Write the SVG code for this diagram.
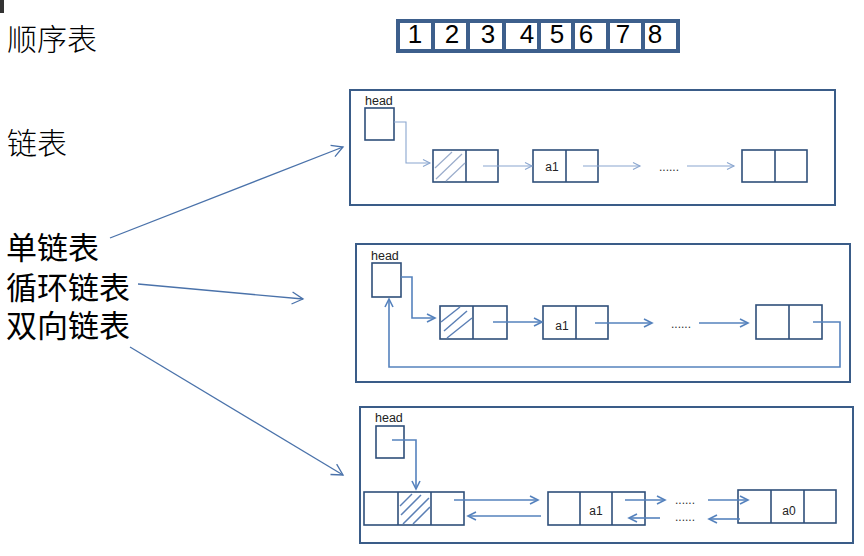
<svg xmlns="http://www.w3.org/2000/svg" width="864" height="556" viewBox="0 0 864 556">
<style>
.lbl{font-family:"Noto Sans CJK SC","Noto Sans CJK JP",sans-serif;fill:#000}
.big{font-size:31px}
.sm{font-size:30px;font-weight:300}
.num{font-family:"Liberation Sans",Arial,sans-serif;font-size:26px;fill:#000;text-anchor:middle}
.cell{fill:#fff;stroke:#2f4f7a;stroke-width:1.6}
.frame{fill:#fff;stroke:#3a5c88;stroke-width:2}
.hd{font-family:"Liberation Sans",Arial,sans-serif;font-size:12.5px;fill:#222}
.val{font-family:"Liberation Sans",Arial,sans-serif;font-size:12px;fill:#222;text-anchor:middle}
.dots{font-family:"Liberation Sans",Arial,sans-serif;font-size:12px;fill:#333}
.thin{fill:none;stroke:#8aa6cf;stroke-width:1.1}
.mid{fill:none;stroke:#5582bd;stroke-width:1.6}
.big-a{fill:none;stroke:#4a72aa;stroke-width:1.3}
.hatch1{stroke:#9aaccb;stroke-width:1.2}
.hatch2{stroke:#5b7fb5;stroke-width:1.5}
</style>
<defs>
<marker id="aBig" markerUnits="userSpaceOnUse" markerWidth="14" markerHeight="14" refX="12" refY="7" orient="auto">
<path d="M1,1 L12,7 L1,13" fill="none" stroke="#4a72aa" stroke-width="1.3"/>
</marker>
<marker id="aThin" markerUnits="userSpaceOnUse" markerWidth="10" markerHeight="10" refX="8" refY="5" orient="auto">
<path d="M1,1.5 L8,5 L1,8.5" fill="none" stroke="#8aa6cf" stroke-width="1.1"/>
</marker>
<marker id="aMid" markerUnits="userSpaceOnUse" markerWidth="12" markerHeight="12" refX="9" refY="6" orient="auto">
<path d="M1,2 L9,6 L1,10" fill="none" stroke="#5582bd" stroke-width="1.6"/>
</marker>
</defs>
<rect width="864" height="556" fill="#fff"/>
<rect x="0" y="0" width="4" height="13" fill="#333"/>

<g id="labels">
<text class="lbl sm" x="7" y="50">顺序表</text>
<text class="lbl sm" x="7" y="154">链表</text>
<text class="lbl big" x="6" y="259">单链表</text>
<text class="lbl big" x="6" y="299">循环链表</text>
<text class="lbl big" x="6" y="337">双向链表</text>
</g>

<g id="seq-table">
<rect x="398" y="21" width="280" height="30" fill="#fff" stroke="#3d5f8c" stroke-width="4"/>
<g stroke="#3d5f8c" stroke-width="4">
<line x1="433" y1="21" x2="433" y2="51"/>
<line x1="468" y1="21" x2="468" y2="51"/>
<line x1="504" y1="21" x2="504" y2="51"/>
<line x1="539" y1="21" x2="539" y2="51"/>
<line x1="573" y1="21" x2="573" y2="51"/>
<line x1="608" y1="21" x2="608" y2="51"/>
<line x1="643" y1="21" x2="643" y2="51"/>
</g>
<text class="num" x="415" y="43">1</text>
<text class="num" x="452" y="43">2</text>
<text class="num" x="488" y="43">3</text>
<text class="num" x="527" y="43">4</text>
<text class="num" x="557" y="43">5</text>
<text class="num" x="586" y="43">6</text>
<text class="num" x="623" y="43">7</text>
<text class="num" x="655" y="43">8</text>
</g>

<g id="single-list">
<rect class="frame" x="350" y="90" width="485" height="115"/>
<text class="hd" x="365" y="105">head</text>
<rect class="cell" x="365" y="108" width="29" height="32"/>
<rect class="cell" x="433" y="150" width="65" height="32"/>
<line class="cell" x1="466" y1="150" x2="466" y2="182"/>
<line class="hatch1" x1="435" y1="168" x2="452" y2="152"/>
<line class="hatch1" x1="436" y1="179" x2="462" y2="154"/>
<line class="hatch1" x1="446" y1="181" x2="465" y2="163"/>
<rect class="cell" x="533" y="150" width="65" height="32"/>
<line class="cell" x1="566" y1="150" x2="566" y2="182"/>
<text class="val" x="552" y="171">a1</text>
<text class="dots" x="659" y="171">......</text>
<rect class="cell" x="742" y="150" width="65" height="32"/>
<line class="cell" x1="775" y1="150" x2="775" y2="182"/>
</g>

<g id="circular-list">
<rect class="frame" x="356" y="244" width="494" height="138"/>
<text class="hd" x="371" y="260">head</text>
<rect class="cell" x="372" y="263" width="29" height="34"/>
<rect class="cell" x="440" y="306" width="67" height="33"/>
<line class="cell" x1="473" y1="306" x2="473" y2="339"/>
<line class="hatch2" x1="441" y1="322" x2="460" y2="307"/>
<line class="hatch2" x1="444" y1="331" x2="467" y2="311"/>
<line class="hatch2" x1="447" y1="338" x2="472" y2="318"/>
<rect class="cell" x="543" y="306" width="65" height="33"/>
<line class="cell" x1="576" y1="306" x2="576" y2="339"/>
<text class="val" x="562" y="330">a1</text>
<text class="dots" x="671" y="328">......</text>
<rect class="cell" x="756" y="305" width="66" height="34"/>
<line class="cell" x1="789" y1="305" x2="789" y2="339"/>
</g>

<g id="double-list">
<rect class="frame" x="360" y="407" width="493" height="136"/>
<text class="hd" x="375" y="422">head</text>
<rect class="cell" x="376" y="426" width="28" height="32"/>
<rect class="cell" x="364" y="492" width="100" height="33"/>
<line class="cell" x1="398" y1="492" x2="398" y2="525"/>
<line class="cell" x1="431" y1="492" x2="431" y2="525"/>
<line class="hatch2" x1="400" y1="506" x2="412" y2="494"/>
<line class="hatch2" x1="401" y1="515" x2="421" y2="495"/>
<line class="hatch2" x1="403" y1="524" x2="429" y2="498"/>
<line class="hatch2" x1="413" y1="524" x2="430" y2="507"/>
<rect class="cell" x="548" y="492" width="97" height="33"/>
<line class="cell" x1="580" y1="492" x2="580" y2="525"/>
<line class="cell" x1="612" y1="492" x2="612" y2="525"/>
<text class="val" x="596" y="515">a1</text>
<text class="dots" x="675" y="504">......</text>
<text class="dots" x="675" y="521">......</text>
<rect class="cell" x="738" y="490" width="98" height="33"/>
<line class="cell" x1="771" y1="490" x2="771" y2="523"/>
<line class="cell" x1="804" y1="490" x2="804" y2="523"/>
<text class="val" x="789" y="515">a0</text>
</g>

<g id="connectors">
<line class="big-a" x1="110" y1="238" x2="343" y2="147" marker-end="url(#aBig)"/>
<line class="big-a" x1="138" y1="284" x2="303" y2="299" marker-end="url(#aBig)"/>
<line class="big-a" x1="130" y1="347" x2="343" y2="475" marker-end="url(#aBig)"/>

<path class="thin" d="M394,122 H406 V163 H430" marker-end="url(#aThin)"/>
<line class="thin" x1="483" y1="166" x2="532" y2="166" marker-end="url(#aThin)"/>
<line class="thin" x1="583" y1="166" x2="640" y2="166" marker-end="url(#aThin)"/>
<line class="thin" x1="687" y1="166" x2="734" y2="166" marker-end="url(#aThin)"/>

<path class="mid" d="M401,277 H412 V318 H435" marker-end="url(#aMid)"/>
<line class="mid" x1="493" y1="322" x2="542" y2="322" marker-end="url(#aMid)"/>
<line class="mid" x1="595" y1="323" x2="652" y2="323" marker-end="url(#aMid)"/>
<line class="mid" x1="699" y1="323" x2="748" y2="323" marker-end="url(#aMid)"/>
<path class="mid" d="M813,322 H840 V367 H389 V299" marker-end="url(#aMid)"/>

<path class="mid" d="M392,440 H416 V489" marker-end="url(#aMid)"/>
<line class="mid" x1="454" y1="500" x2="538" y2="500" marker-end="url(#aMid)"/>
<line class="mid" x1="541" y1="516" x2="468" y2="516" marker-end="url(#aMid)"/>
<line class="mid" x1="625" y1="500" x2="665" y2="500" marker-end="url(#aMid)"/>
<line class="mid" x1="660" y1="518" x2="629" y2="518" marker-end="url(#aMid)"/>
<line class="mid" x1="708" y1="500" x2="748" y2="500" marker-end="url(#aMid)"/>
<line class="mid" x1="740" y1="519" x2="709" y2="519" marker-end="url(#aMid)"/>
</g>
</svg>
